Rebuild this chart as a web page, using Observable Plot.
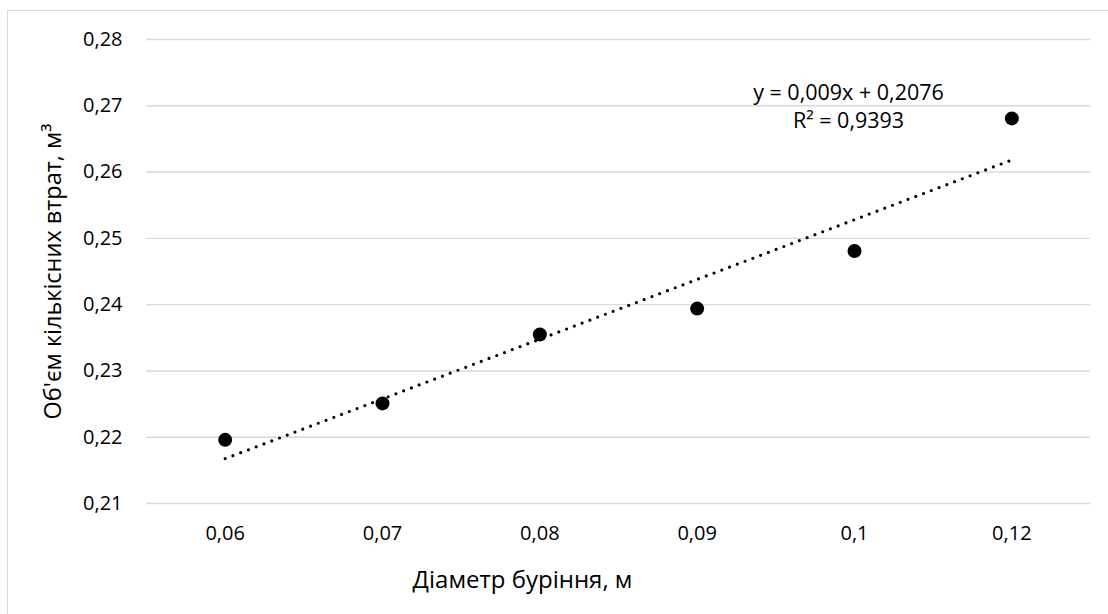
<!DOCTYPE html>
<html><head><meta charset="utf-8">
<script src="https://cdn.jsdelivr.net/npm/d3@7"></script>
<script src="https://cdn.jsdelivr.net/npm/@observablehq/plot@0.6"></script>
<style>
body{margin:0;background:#fff;}
#wrap{position:relative;width:1108px;height:614px;overflow:hidden;}
#frame{position:absolute;left:7px;top:10px;width:1200px;height:700px;border:1px solid #d9d9d9;box-sizing:border-box;pointer-events:none;}
</style></head><body><div id="wrap"><div id="frame"></div></div>
<script>
// Categories (drilling diameter, m) and values (volume of losses, m³)
const categories = ["0,06", "0,07", "0,08", "0,09", "0,1", "0,12"];
const volumes = [0.2196, 0.2251, 0.2355, 0.2394, 0.2481, 0.2681];
const yTicks = [0.21, 0.22, 0.23, 0.24, 0.25, 0.26, 0.27, 0.28];
const xTitle = "Діаметр буріння, м";
const yTitle = "Об'єм кількісних втрат, м³";
const equationLines = ["y = 0,009x + 0,2076", "R² = 0,9393"];

const rows = categories.map((c, i) => ({idx: i + 1, label: c, v: volumes[i]}));
const xTicks = rows.map(d => d.idx);
const fmt = d => d.toFixed(2).replace(".", ",");

const chart = Plot.plot({
  width: 1108, height: 614,
  marginLeft: 146, marginRight: 18, marginTop: 39, marginBottom: 111,
  style: {fontFamily: "'Open Sans', sans-serif", fontSize: "20px", color: "#000", background: "transparent"},
  x: {type: "linear", domain: [0.5, 6.5]},
  y: {domain: [0.21, 0.28]},
  marks: [
    Plot.gridY(yTicks, {stroke: "#d9d9d9", strokeOpacity: 1, strokeWidth: 1.4}),
    Plot.axisY(yTicks, {tickSize: 0, tickPadding: 24, tickFormat: fmt, label: null, fill: "#000", fontSize: 20}),
    Plot.axisX(xTicks, {tickSize: 0, tickPadding: 22, tickFormat: i => categories[i - 1], label: null, fill: "#000", fontSize: 20}),
    Plot.linearRegressionY(rows, {x: "idx", y: "v", ci: 0, stroke: "#000", strokeWidth: 3.2, strokeDasharray: "0,8.3", strokeLinecap: "round"}),
    Plot.dot(rows, {x: "idx", y: "v", r: 7, fill: "#000", stroke: "none"}),
    Plot.text([equationLines.join("\n")], {frameAnchor: "top-right", dx: -242, dy: 41, textAnchor: "middle", lineAnchor: "top", lineHeight: 1.3, fontSize: 21.5, fill: "#000"}),
    Plot.text([xTitle], {frameAnchor: "bottom", dx: -96, dy: 77, lineAnchor: "middle", fontSize: 24, fill: "#000"}),
    Plot.text([yTitle], {frameAnchor: "left", dx: -93, rotate: -90, textAnchor: "middle", lineAnchor: "middle", fontSize: 23.5, fill: "#000"})
  ]
});
document.getElementById("wrap").prepend(chart);
</script>
</body></html>
